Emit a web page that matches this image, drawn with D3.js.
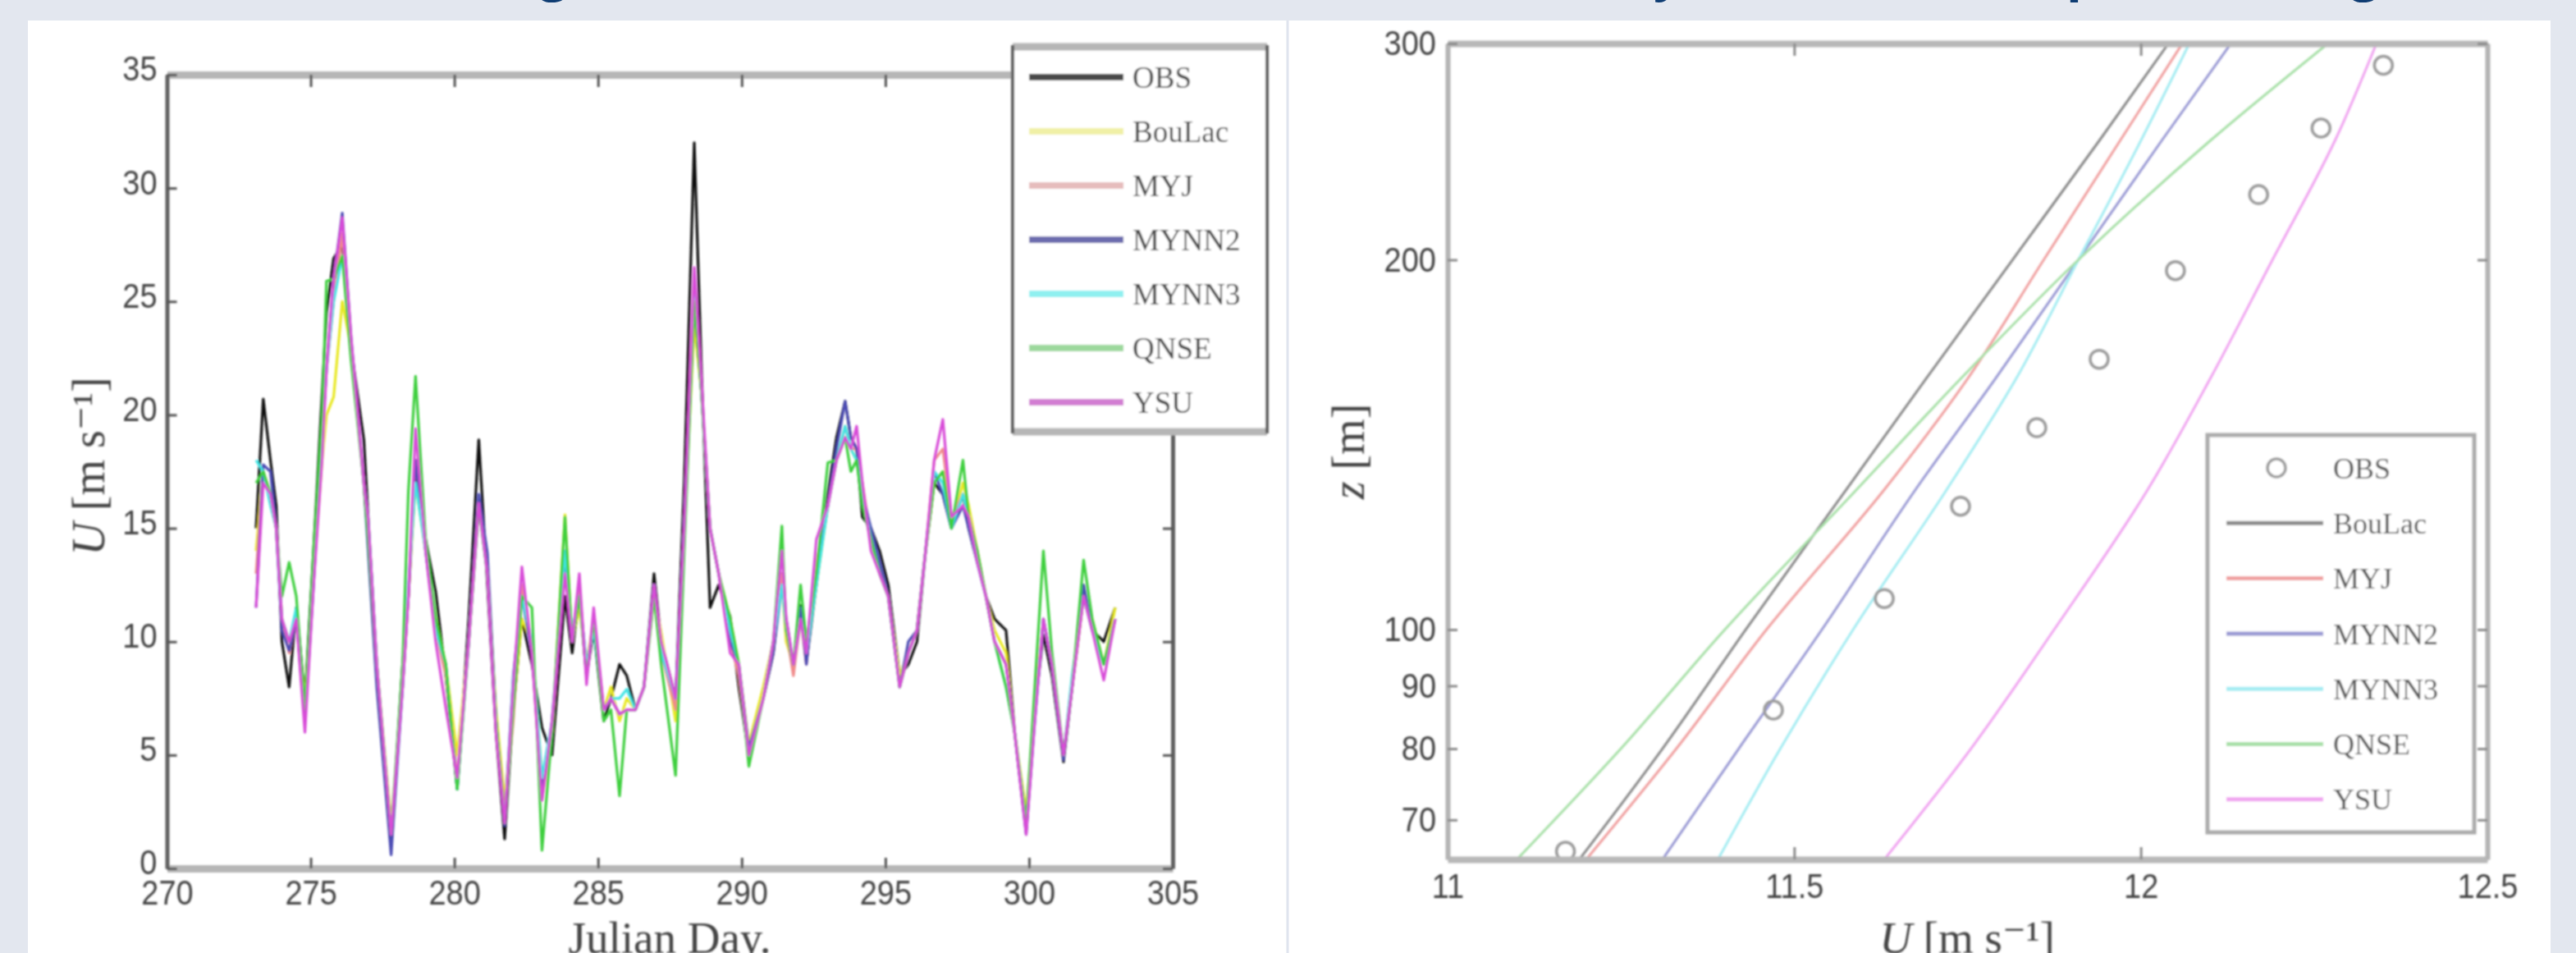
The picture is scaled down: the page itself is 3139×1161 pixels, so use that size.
<!DOCTYPE html>
<html>
<head>
<meta charset="utf-8">
<script src="https://cdn.jsdelivr.net/npm/d3@7"></script>
<style>
  html, body { margin: 0; padding: 0; background: #e3e7ef; }
  svg { display: block; }
  .tick text { transform-box: fill-box; transform-origin: center; transform: scaleY(1.12); }
</style>
</head>
<body>
<svg id="fig" width="3139" height="1161"></svg>
<script>
// ---- data: left panel, wind speed time series ----
const seriesNames = ["OBS", "BouLac", "MYJ", "MYNN2", "MYNN3", "QNSE", "YSU"];

const days = [
  273.1, 273.35, 273.6, 273.8, 274.0, 274.25, 274.5, 274.8, 275.1, 275.4,
  275.55, 275.8, 276.1, 276.4, 276.85, 277.0, 277.3, 277.8, 278.2, 278.4,
  278.65, 279.0, 279.35, 279.7, 280.1, 280.5, 280.85, 281.15, 281.45, 281.75,
  282.05, 282.35, 282.7, 283.05, 283.4, 283.85, 284.1, 284.35, 284.6, 284.85,
  285.2, 285.45, 285.75, 286.0, 286.3, 286.6, 286.95, 287.2, 287.7, 288.0,
  288.35, 288.6, 288.9, 289.2, 289.6, 289.9, 290.25, 290.75, 291.1, 291.4,
  291.55, 291.8, 292.05, 292.25, 292.6, 293.0, 293.3, 293.6, 293.8, 294.0,
  294.2, 294.5, 294.8, 295.1, 295.5, 295.8, 296.1, 296.4, 296.7, 297.0,
  297.3, 297.7, 297.9, 298.2, 298.5, 298.8, 299.2, 299.5, 299.9, 300.2,
  300.5, 300.8, 301.2, 301.5, 301.9, 302.2, 302.6, 303.0];

const uObs = [
  15, 20.7, 18, 16, 10, 8, 11.5, 7.5, 14, 21,
  24.5, 26.9, 27.5, 23, 18.9, 15.5, 9, 1.0, 9, 12,
  17.5, 14.5, 12.2, 8.5, 3.5, 11, 18.9, 12.5, 6, 1.3,
  7, 11, 9, 6.2, 5, 12, 9.5, 12, 8.5, 10.5,
  6.5, 7.5, 9, 8.5, 7, 8, 13, 10, 7.5, 17,
  32, 22, 11.5, 12.5, 11.1, 8, 5, 7.5, 9.5, 13,
  10.5, 9, 11.6, 9.1, 12.5, 16.5, 19, 20.6, 19, 18.5,
  15.5, 15, 14, 12.5, 8.5, 9, 10, 14, 17, 16.5,
  15, 16.5, 15, 13.5, 12, 11, 10.5, 6, 1.7, 7,
  10.3, 8.5, 4.7, 8, 12, 10.5, 10, 11.5];
const uBouLac = [
  14, 17.5, 16.5, 15, 11, 10, 11, 7.5, 13, 18,
  20, 20.8, 25, 23, 17, 14.5, 9, 2, 8, 12,
  17, 14, 11, 9, 5, 10, 16, 13, 7, 3,
  7, 11, 10, 4, 6, 15.6, 10, 11.5, 9, 11,
  7, 8, 6.5, 7.5, 7, 8, 12, 10.4, 6.5, 15,
  24, 21, 15, 13, 11, 9, 5.5, 8, 10, 12.5,
  10, 9, 11, 9.5, 12.5, 16, 18, 19, 18.5, 18,
  16.5, 14.5, 13, 12, 8.5, 9.5, 10.5, 14, 17, 17.5,
  15, 17, 16, 14, 12, 10.5, 9.5, 6, 2.5, 7,
  11, 9, 5, 8, 12, 11, 9, 11.5];
const uMYJ = [
  13, 17.5, 16.5, 15, 11, 9.5, 11, 6.5, 13, 19,
  22, 25, 28, 23, 17, 14.5, 8.5, 1.5, 8, 12,
  18, 14, 10.5, 8.5, 4, 10, 16, 13, 6.5, 2.5,
  6.5, 12.5, 9.5, 3, 6, 14, 10, 12.5, 8.5, 11,
  7, 7.5, 6.8, 7, 7, 8, 12.5, 9.5, 7, 15,
  26, 21, 15, 13, 10, 8.5, 5, 7.5, 9.5, 13,
  10.5, 8.5, 11, 9, 13.5, 16, 18, 19.5, 18.5, 18.5,
  17, 14.5, 13, 12, 8, 9.5, 10.5, 14, 18, 18.5,
  15.5, 16.5, 15.5, 14, 12, 10, 9, 6, 2, 7,
  11, 9, 5, 8, 12.5, 10.5, 9, 11];
const uMYNN2 = [
  11.5, 17.8, 17.5, 15, 10.5, 9.6, 11, 6.5, 12.5, 19,
  22, 26, 28.9, 23.5, 17, 14, 8, 0.6, 8, 12,
  18, 14, 10.5, 9, 3.5, 10, 16.5, 13.9, 6.5, 1.9,
  8.5, 12, 9.5, 3.5, 6.5, 13.5, 10, 12, 9, 10.5,
  7, 7.5, 6.8, 7, 7, 8, 12.5, 9.5, 7.5, 15,
  25, 21, 15, 13, 10, 9, 5.3, 7.5, 9.5, 12.5,
  11, 9, 11.5, 9, 13, 16, 18.5, 20.6, 19, 18.5,
  16.5, 15, 13.5, 12, 8, 10, 10.5, 14, 17.5, 16.5,
  15, 16, 15, 13.5, 12, 10, 9, 6, 1.5, 6.5,
  11, 9, 4.8, 8, 12.5, 10.5, 9, 11];
const uMYNN3 = [
  18, 17.5, 16, 15, 11, 10, 11.5, 7, 13, 19,
  22, 25, 27, 23, 17, 15.4, 9, 1.5, 8, 12.5,
  17, 14, 10.5, 9, 3.5, 10, 16, 13, 6.5, 2,
  8.3, 12, 10, 4, 6.5, 14, 10.5, 12, 9, 10.5,
  7, 7.5, 7.5, 7.9, 7, 8, 12.5, 9.5, 7.5, 15,
  25.5, 21, 15, 13, 10.5, 9, 5, 7.5, 10, 12.5,
  10.5, 9, 11, 9.5, 12.5, 16, 18, 19.5, 18.5, 18,
  16.5, 14.5, 13, 12, 8, 9.5, 10.5, 14, 17.5, 17,
  15, 16.5, 15.5, 13.5, 12, 10, 8, 6, 2, 6.5,
  11, 9, 5, 8.5, 12, 10.5, 9, 11];
const uQNSE = [
  17, 17.5, 16.5, 15, 12, 13.5, 12, 7, 14, 20,
  25.9, 26, 27, 22.5, 17, 14.5, 9, 1.5, 9, 16.6,
  21.7, 14.5, 11, 9, 3.5, 10, 16, 13, 6.5, 2,
  7, 12, 11.5, 0.8, 6, 15.5, 10, 12, 8.5, 11,
  6.5, 7, 3.2, 7, 7, 8, 12, 9, 4.1, 14,
  25, 21, 15, 13, 11, 9, 4.5, 7.5, 10, 15.1,
  10.5, 9, 12.5, 10, 13, 17.9, 18, 19, 17.5, 18,
  16, 14.5, 13, 12, 8, 9.5, 10.5, 14, 17, 17.5,
  15, 18, 15.5, 14, 12, 10, 8, 6, 2, 8,
  14, 9.5, 5, 8, 13.6, 11, 9, 11];
const uYSU = [
  11.5, 17, 16.5, 15, 11, 10, 11, 6, 12.5, 18.1,
  22, 26, 28.7, 23.5, 17, 15.4, 9, 1.5, 8, 12,
  19.4, 14, 10, 7.1, 4, 10, 16.1, 13, 6, 2,
  8, 13.3, 9.5, 3, 6.5, 13, 10, 13, 8.1, 11.5,
  7, 7.5, 6.8, 7, 7, 8, 12.5, 10, 7.5, 15,
  26.5, 21.5, 15, 13, 9.5, 9, 5, 7.5, 10, 14,
  11, 9, 11, 9.5, 14.5, 16, 18, 19, 18.5, 19.5,
  17, 14, 13, 12, 8, 9.5, 10.5, 14, 18, 19.8,
  15.5, 16, 15.5, 13.5, 12, 10, 9, 6, 1.5, 6.5,
  11, 9, 5, 8, 12, 10.5, 8.3, 11];

const timeTicks = [270, 275, 280, 285, 290, 295, 300, 305];
const speedTicks = [0, 5, 10, 15, 20, 25, 30, 35];

// ---- data: right panel, mean vertical profiles ----
const obsHeights = [66, 86, 106, 126, 146, 166, 196, 226, 256, 288];
const obsProfile = [11.17, 11.47, 11.63, 11.74, 11.85, 11.94, 12.05, 12.17, 12.26, 12.35];

const modelHeights = [65, 80, 100, 130, 160, 200, 250, 300];
const pBouLac = [11.19, 11.31, 11.43, 11.575, 11.69, 11.815, 11.94, 12.04];
const pMYJ    = [11.20, 11.33, 11.46, 11.63, 11.75, 11.86, 11.97, 12.06];
const pMYNN2  = [11.31, 11.42, 11.54, 11.675, 11.79, 11.91, 12.03, 12.13];
const pMYNN3  = [11.39, 11.48, 11.585, 11.72, 11.82, 11.91, 12.00, 12.07];
const pQNSE   = [11.10, 11.25, 11.40, 11.59, 11.74, 11.91, 12.10, 12.27];
const pYSU    = [11.63, 11.755, 11.875, 12.01, 12.10, 12.19, 12.28, 12.34];

const profTicksX = [11, 11.5, 12, 12.5];
const profTicksY = [70, 80, 90, 100, 200, 300];

// ---- styling ----
const leftColors  = ["#111111", "#e8e820", "#f08a8a", "#4b4bb4", "#40e4e4", "#3ccf3c", "#d84cd8"];
const leftLegendColors = ["#4a4a4a", "#f0f0a6", "#e6bcbc", "#6c6cae", "#8ff0f0", "#9cd89c", "#d27dd2"];
const rightColors = ["#8a8a8a", "#f0a0a0", "#9a9ad4", "#a4ecf2", "#a8e0a8", "#f0a4f0"];
const serif = "'Liberation Serif', 'DejaVu Serif', serif";
const sans = "'Liberation Sans', Arial, sans-serif";
const txt = "#444";

const svg = d3.select("#fig");
const defs = svg.append("defs");
defs.append("filter").attr("id", "soft")
  .append("feGaussianBlur").attr("stdDeviation", 0.9);

// page background, panels
svg.append("rect").attr("width", 3139).attr("height", 1161).attr("fill", "#e3e7ef");
svg.append("rect").attr("x", 34).attr("y", 25).attr("width", 3074).attr("height", 1140).attr("fill", "#fff");
svg.append("line").attr("x1", 1569).attr("x2", 1569).attr("y1", 25).attr("y2", 1161)
  .attr("stroke", "#dfe4ee").attr("stroke-width", 3);

// title, only its descenders show above the panels
const titleParts = [
  { t: "Hub-hei", x: 657, a: "end" },
  { t: "ght wind time series ", x: 657, a: "start" },
  { t: "(left", x: 1419, a: "start" },
  { t: ") and the hourl", x: 1547, a: "start" },
  { t: "y mean vertical ", x: 2015, a: "start" },
  { t: "profiles ", x: 2518, a: "start" },
  { t: "(ri", x: 2776, a: "start" },
  { t: "ght", x: 2864, a: "start" },
  { t: ")", x: 2974, a: "start" }
];
svg.append("g").selectAll("text").data(titleParts).join("text")
  .attr("x", d => d.x).attr("y", -12).attr("text-anchor", d => d.a)
  .attr("font-family", "'Open Sans', sans-serif").attr("font-weight", 700)
  .attr("font-size", 62).attr("fill", "#0f3d73").text(d => d.t);

// ================= left panel =================
const xL = d3.scaleLinear().domain([270, 305]).range([203.5, 1429]);
const yL = d3.scaleLinear().domain([0, 35]).range([1058, 91]);
const left = svg.append("g").attr("filter", "url(#soft)");

function styleAxis(g, domColor, domWidth, tickColor) {
  g.select(".domain").attr("stroke", domColor).attr("stroke-width", domWidth);
  g.selectAll(".tick line").attr("stroke", tickColor).attr("stroke-width", 3);
  g.selectAll(".tick text").attr("fill", txt).attr("font-family", sans).attr("font-size", 38);
}

left.append("g").attr("transform", "translate(0,1058)")
  .call(d3.axisBottom(xL).tickValues(timeTicks).tickFormat(d3.format("d")).tickSize(-13).tickSizeOuter(0).tickPadding(15))
  .call(g => styleAxis(g, "#b6b6b6", 9, "#555"));
left.append("g").attr("transform", "translate(0,91)")
  .call(d3.axisTop(xL).tickValues(timeTicks).tickFormat("").tickSize(-15).tickSizeOuter(0))
  .call(g => styleAxis(g, "#b6b6b6", 9, "#555"));
left.append("g").attr("transform", "translate(203.5,0)")
  .call(d3.axisLeft(yL).tickValues(speedTicks).tickFormat(d3.format("d")).tickSize(-12).tickSizeOuter(0).tickPadding(12))
  .call(g => styleAxis(g, "#5f5f5f", 5, "#555"))
  .call(g => g.selectAll(".tick text").attr("dy", "0.14em"));
left.append("g").attr("transform", "translate(1429,0)")
  .call(d3.axisRight(yL).tickValues(speedTicks).tickFormat("").tickSize(-12).tickSizeOuter(0))
  .call(g => styleAxis(g, "#5f5f5f", 5, "#555"));

const leftSeries = [uObs, uBouLac, uMYJ, uMYNN2, uMYNN3, uQNSE, uYSU];
const lineL = d3.line().x(d => xL(d[0])).y(d => yL(d[1]));
left.append("g").selectAll("path").data(leftSeries).join("path")
  .attr("d", v => lineL(d3.zip(days, v)))
  .attr("fill", "none")
  .attr("stroke", (v, i) => leftColors[i])
  .attr("stroke-width", 3.2)
  .attr("stroke-linejoin", "round");

// axis labels
left.append("text").attr("x", 816).attr("y", 1161).attr("text-anchor", "middle")
  .attr("font-family", serif).attr("font-size", 55).attr("fill", txt).text("Julian Day.");
const ylab = left.append("text").attr("transform", "translate(127,568) rotate(-90)")
  .attr("text-anchor", "middle").attr("font-family", serif).attr("font-size", 56).attr("fill", txt);
ylab.append("tspan").attr("font-style", "italic").text("U");
ylab.append("tspan").text(" [m s\u207B\u00B9]");

// legend
const legL = left.append("g");
legL.append("rect").attr("x", 1234).attr("y", 55).attr("width", 310).attr("height", 472).attr("fill", "#fff");
legL.append("line").attr("x1", 1234).attr("x2", 1544).attr("y1", 57).attr("y2", 57).attr("stroke", "#b6b6b6").attr("stroke-width", 9);
legL.append("line").attr("x1", 1234).attr("x2", 1544).attr("y1", 526).attr("y2", 526).attr("stroke", "#b6b6b6").attr("stroke-width", 9);
legL.append("line").attr("x1", 1234).attr("x2", 1234).attr("y1", 55).attr("y2", 528).attr("stroke", "#5f5f5f").attr("stroke-width", 4);
legL.append("line").attr("x1", 1544).attr("x2", 1544).attr("y1", 55).attr("y2", 528).attr("stroke", "#5f5f5f").attr("stroke-width", 4);
const rowsL = legL.selectAll("g.row").data(seriesNames).join("g").attr("class", "row")
  .attr("transform", (d, i) => `translate(0,${94 + i * 66})`);
rowsL.append("line").attr("x1", 1254).attr("x2", 1369)
  .attr("stroke", (d, i) => leftLegendColors[i]).attr("stroke-width", 8);
rowsL.append("text").attr("x", 1380).attr("dy", "0.35em")
  .attr("font-family", serif).attr("font-size", 37).attr("fill", txt).text(d => d);

// ================= right panel =================
const xR = d3.scaleLinear().domain([11, 12.5]).range([1764, 3031]);
const yR = d3.scaleLog().domain([65, 300]).range([1047, 53]);
const right = svg.append("g").attr("filter", "url(#soft)");

defs.append("clipPath").attr("id", "clipR")
  .append("rect").attr("x", 1764).attr("y", 53).attr("width", 1267).attr("height", 994);

const lineR = d3.line().x(d => xR(d[1])).y(d => yR(d[0])).curve(d3.curveMonotoneY);
const profiles = [pBouLac, pMYJ, pMYNN2, pMYNN3, pQNSE, pYSU];
right.append("g").attr("clip-path", "url(#clipR)").selectAll("path").data(profiles).join("path")
  .attr("d", v => lineR(d3.zip(modelHeights, v)))
  .attr("fill", "none")
  .attr("stroke", (v, i) => rightColors[i])
  .attr("stroke-width", 3);

right.append("g").selectAll("circle").data(d3.zip(obsHeights, obsProfile)).join("circle")
  .attr("cx", d => xR(d[1])).attr("cy", d => yR(d[0])).attr("r", 11)
  .attr("fill", "none").attr("stroke", "#9c9c9c").attr("stroke-width", 3.5);

right.append("g").attr("transform", "translate(0,1047)")
  .call(d3.axisBottom(xR).tickValues(profTicksX).tickFormat(d3.format("~g")).tickSize(-15).tickSizeOuter(0).tickPadding(18))
  .call(g => styleAxis(g, "#b8b8b8", 8, "#8c8c8c"));
right.append("g").attr("transform", "translate(0,53)")
  .call(d3.axisTop(xR).tickValues(profTicksX).tickFormat("").tickSize(-15).tickSizeOuter(0))
  .call(g => styleAxis(g, "#b8b8b8", 8, "#8c8c8c"));
right.append("g").attr("transform", "translate(1764,0)")
  .call(d3.axisLeft(yR).tickValues(profTicksY).tickFormat(d3.format("d")).tickSize(-12).tickSizeOuter(0).tickPadding(14))
  .call(g => styleAxis(g, "#b4b4b4", 6, "#8c8c8c"));
right.append("g").attr("transform", "translate(3031,0)")
  .call(d3.axisRight(yR).tickValues(profTicksY).tickFormat("").tickSize(-12).tickSizeOuter(0))
  .call(g => styleAxis(g, "#b4b4b4", 6, "#8c8c8c"));

const xlabR = right.append("text").attr("x", 2397).attr("y", 1161).attr("text-anchor", "middle")
  .attr("font-family", serif).attr("font-size", 55).attr("fill", txt);
xlabR.append("tspan").attr("font-style", "italic").text("U");
xlabR.append("tspan").text(" [m s\u207B\u00B9]");

const ylabR = right.append("text").attr("transform", "translate(1662,550) rotate(-90)")
  .attr("text-anchor", "middle").attr("font-family", serif).attr("font-size", 56).attr("fill", txt);
ylabR.append("tspan").attr("font-style", "italic").text("z");
ylabR.append("tspan").text(" [m]");

// legend
const legR = right.append("g");
legR.append("rect").attr("x", 2690).attr("y", 530).attr("width", 325).attr("height", 484)
  .attr("fill", "#fff").attr("stroke", "#ababab").attr("stroke-width", 5);
const rowsR = legR.selectAll("g.row").data(seriesNames).join("g").attr("class", "row")
  .attr("transform", (d, i) => `translate(0,${570 + i * 67.3})`);
rowsR.filter((d, i) => i === 0).append("circle").attr("cx", 2774).attr("r", 11)
  .attr("fill", "none").attr("stroke", "#9c9c9c").attr("stroke-width", 3.5);
rowsR.filter((d, i) => i > 0).append("line").attr("x1", 2713).attr("x2", 2831)
  .attr("stroke", (d, i) => rightColors[i]).attr("stroke-width", 5);
rowsR.append("text").attr("x", 2843).attr("dy", "0.35em")
  .attr("font-family", serif).attr("font-size", 36).attr("fill", "#555").text(d => d);
</script>
</body>
</html>
